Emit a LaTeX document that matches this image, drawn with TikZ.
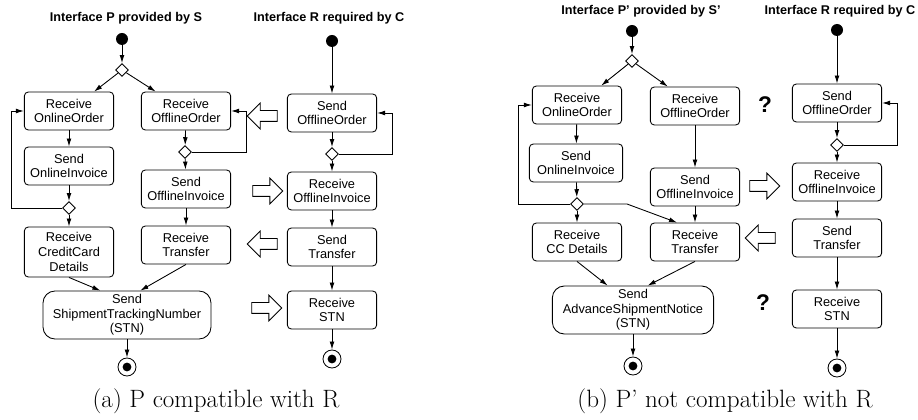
\documentclass[tikz,border=0pt]{standalone}
\usepackage{fontspec}
\newfontfamily\uifont[Ligatures=TeX]{Liberation Sans}
\usetikzlibrary{arrows.meta,shapes.geometric,shapes.arrows}

\begin{document}
\begin{tikzpicture}[
        x=0.75pt,
        y=-0.75pt,
        line width=0.65pt,
        font=\uifont\fontsize{9.6}{11}\selectfont
    ]
    \tikzset{
        actbox/.style = {rectangle, rounded corners=3pt, draw, fill=white, align=center,
                         minimum width=67pt, minimum height=28.5pt, inner sep=1pt},
        widebox/.style = {actbox, rounded corners=9pt, minimum height=36pt},
        choice/.style = {diamond, draw, fill=white, aspect=1, inner sep=0pt, minimum size=9.75pt},
        begin/.style = {circle, fill=black, inner sep=0pt, minimum size=9pt},
        finish/.style = {circle, draw, inner sep=0pt, minimum size=13.5pt,
                         path picture={\fill (path picture bounding box.center) circle (3.3pt);}},
        title/.style = {font=\uifont\bfseries\fontsize{9.5}{11}\selectfont},
        query/.style = {font=\uifont\bfseries\fontsize{17}{19}\selectfont},
        caption/.style = {font=\rmfamily\fontsize{18.8}{21}\selectfont},
        bigarrow/.style = {single arrow, draw, fill=white, inner sep=3.75pt,
                           minimum height=22.5pt, single arrow head extend=5.6pt,
                           single arrow tip angle=90},
        flow/.style = {-{Latex[length=6pt,width=3.6pt]}},
    }
    \useasboundingbox (0,0) rectangle (918,420);
    % (a) provided interface P
    \node[title] at (126,18) (titleP) {Interface P provided by S};
    \node[begin] at (122,39) (startP) {};
    \node[choice] at (122,70) (decP) {};
    \node[actbox] at (69,111) (rOnO) {Receive\\OnlineOrder};
    \node[actbox] at (186,111) (rOffO) {Receive\\OfflineOrder};
    \node[actbox] at (69,166) (sOnI) {Send\\OnlineInvoice};
    \node[choice] at (185,152) (decOff) {};
    \node[actbox] at (186,189) (sOffI) {Send\\OfflineInvoice};
    \node[choice] at (69,208) (decOn) {};
    \node[actbox, minimum height=37.5pt] at (69,252) (rCC) {Receive\\CreditCard\\Details};
    \node[actbox] at (186,245) (rTr) {Receive\\Transfer};
    \node[widebox, minimum width=126pt] at (127,315) (sSTN) {Send\\ShipmentTrackingNumber\\(STN)};
    \node[finish] at (127,367) (endP) {};
    \coordinate (loopA) at (11,111);
    \coordinate (loopB) at (246,111);
    %
    \draw[flow] (startP) -- (decP);
    \draw[flow] (decP) -- (rOnO);
    \draw[flow] (decP) -- (rOffO);
    \draw[flow] (rOnO) -- (sOnI);
    \draw[flow] (sOnI) -- (decOn);
    \draw[flow] (decOn) -- (rCC);
    \draw[flow] (decOn.west) -| (loopA) -- (rOnO.west);
    \draw[flow] (rOffO) -- (decOff);
    \draw[flow] (decOff) -- (sOffI);
    \draw[flow] (decOff.east) -| (loopB) -- (rOffO.east);
    \draw[flow] (sOffI) -- (rTr);
    \draw[flow] (rCC.south) -- ([xshift=-20pt]sSTN.north);
    \draw[flow] (rTr.south) -- ([xshift=10pt]sSTN.north);
    \draw[flow] (sSTN) -- (endP);
    % (a) required interface R
    \node[title] at (329,18) (titleR) {Interface R required by C};
    \node[begin] at (332,41) (startR) {};
    \node[actbox] at (332,113) (sOffO) {Send\\OfflineOrder};
    \node[choice] at (332,154) (decR) {};
    \node[actbox] at (332,191) (rOffI) {Receive\\OfflineInvoice};
    \node[actbox] at (332,247) (sTr) {Send\\Transfer};
    \node[actbox] at (332,310) (rSTN) {Receive\\STN};
    \node[finish] at (332,359) (endR) {};
    \coordinate (loopC) at (392,113);
    %
    \draw[flow] (startR) -- (sOffO);
    \draw[flow] (sOffO) -- (decR);
    \draw[flow] (decR.east) -| (loopC) -- (sOffO.east);
    \draw[flow] (decR) -- (rOffI);
    \draw[flow] (rOffI) -- (sTr);
    \draw[flow] (sTr) -- (rSTN);
    \draw[flow] (rSTN) -- (endR);
    %
    \node[bigarrow, shape border rotate=180] at (265,116) (msgA) {};
    \node[bigarrow] at (265,191) (msgB) {};
    \node[bigarrow, shape border rotate=180] at (265,244) (msgC) {};
    \node[bigarrow] at (264,308) (msgD) {};
    \node[caption] at (216,401) (capA) {(a) P compatible with R};
    % (b) provided interface P'
    \node[title] at (641,11) (titleP2) {Interface P' provided by S'};
    \node[begin] at (632,31) (startP2) {};
    \node[choice] at (632,61) (decP2) {};
    \node[actbox] at (577,105) (rOnO2) {Receive\\OnlineOrder};
    \node[actbox] at (695,106) (rOffO2) {Receive\\OfflineOrder};
    \node[actbox, minimum width=70pt] at (576,163) (sOnI2) {Send\\OnlineInvoice};
    \node[actbox] at (695,187) (sOffI2) {Send\\OfflineInvoice};
    \node[choice] at (577,204) (decOn2) {};
    \node[actbox] at (577,242) (rCC2) {Receive\\CC Details};
    \node[actbox] at (695,242) (rTr2) {Receive\\Transfer};
    \node[widebox, minimum width=121pt] at (633,310) (sSTN2) {Send\\AdvanceShipmentNotice\\(STN)};
    \node[finish] at (633,366) (endP2) {};
    \coordinate (loopD) at (518,105);
    \coordinate (bendF) at (627,204);
    %
    \draw[flow] (startP2) -- (decP2);
    \draw[flow] (decP2) -- (rOnO2);
    \draw[flow] (decP2) -- (rOffO2);
    \draw[flow] (rOnO2) -- (sOnI2);
    \draw[flow] (sOnI2) -- (decOn2);
    \draw[flow] (decOn2) -- (rCC2);
    \draw[flow] (decOn2.west) -| (loopD) -- (rOnO2.west);
    \draw[flow] (decOn2.east) -- (bendF) -- ([xshift=-13.5pt]rTr2.north);
    \draw[flow] (rOffO2) -- (sOffI2);
    \draw[flow] (sOffI2) -- (rTr2);
    \draw[flow] (rCC2.south) -- ([xshift=-19pt]sSTN2.north);
    \draw[flow] (rTr2.south) -- ([xshift=11pt]sSTN2.north);
    \draw[flow] (sSTN2) -- (endP2);
    % (b) required interface R
    \node[title] at (840,11) (titleR2) {Interface R required by C};
    \node[begin] at (837,30) (startR2) {};
    \node[actbox] at (837,103) (sOffO2) {Send\\OfflineOrder};
    \node[choice] at (837,145) (decR2) {};
    \node[actbox] at (837,182) (rOffI2) {Receive\\OfflineInvoice};
    \node[actbox] at (837,238) (sTr2) {Send\\Transfer};
    \node[actbox] at (837,309) (rSTN2) {Receive\\STN};
    \node[finish] at (837,368) (endR2) {};
    \coordinate (loopE) at (897,103);
    %
    \draw[flow] (startR2) -- (sOffO2);
    \draw[flow] (sOffO2) -- (decR2);
    \draw[flow] (decR2.east) -| (loopE) -- (sOffO2.east);
    \draw[flow] (decR2) -- (rOffI2);
    \draw[flow] (rOffI2) -- (sTr2);
    \draw[flow] (sTr2) -- (rSTN2);
    \draw[flow] (rSTN2) -- (endR2);
    %
    \node[query] at (765,105) (q1) {?};
    \node[bigarrow] at (762,186) (msgE) {};
    \node[bigarrow, shape border rotate=180] at (763,238) (msgF) {};
    \node[query] at (763,303) (q2) {?};
    \node[caption] at (725,401) (capB) {(b) P' not compatible with R};
\end{tikzpicture}
\end{document}
